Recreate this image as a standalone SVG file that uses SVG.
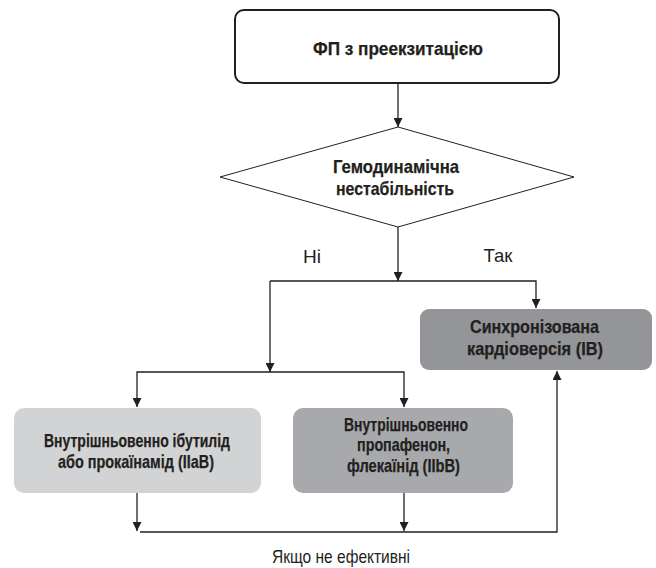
<svg xmlns="http://www.w3.org/2000/svg" width="656" height="568" viewBox="0 0 656 568">
<style>
.t{font-family:"Liberation Sans Narrow","Liberation Sans",Arial,sans-serif;font-weight:bold;font-size:18.5px;fill:#231f20;stroke:#231f20;stroke-width:0.25;text-anchor:middle}
.r{font-family:"Liberation Sans Narrow","Liberation Sans",Arial,sans-serif;font-size:19px;fill:#231f20;text-anchor:middle}
.c{fill:none;stroke:#231f20;stroke-width:1.3}
</style>
<defs>
<marker id="ah" viewBox="0 0 10 10" refX="10" refY="5" markerWidth="9" markerHeight="9" markerUnits="userSpaceOnUse" orient="auto">
<path d="M0,0 L10,5 L0,10 Z" fill="#231f20"/>
</marker>
</defs>
<rect width="656" height="568" fill="#ffffff"/>
<g id="connectors">
<path class="c" d="M398,83 V127" marker-end="url(#ah)"/>
<path class="c" d="M398,227 V281" marker-end="url(#ah)"/>
<path class="c" d="M270,281 H536 V308" marker-end="url(#ah)"/>
<path class="c" d="M270,281 V372" marker-end="url(#ah)"/>
<path class="c" d="M270,372 H137 V407" marker-end="url(#ah)"/>
<path class="c" d="M270,372 H404 V407" marker-end="url(#ah)"/>
<path class="c" d="M137,493 V531" marker-end="url(#ah)"/>
<path class="c" d="M404,493 V531" marker-end="url(#ah)"/>
<path class="c" d="M140,532 H557 V371" marker-end="url(#ah)"/>
</g>
<g id="start">
<rect x="235" y="10" width="324" height="73" rx="9" fill="#ffffff" stroke="#231f20" stroke-width="2"/>
<text class="t" x="398" y="55" textLength="170" lengthAdjust="spacingAndGlyphs">ФП з преекзитацією</text>
</g>
<g id="decision">
<polygon points="398,127 574,177 398,227 220,177" fill="#ffffff" stroke="#231f20" stroke-width="1"/>
<text class="t" x="396" y="173" textLength="126" lengthAdjust="spacingAndGlyphs">Гемодинамічна</text>
<text class="t" x="395" y="195" textLength="118" lengthAdjust="spacingAndGlyphs">нестабільність</text>
</g>
<g id="label-no"><text class="r" x="312" y="263" textLength="18" lengthAdjust="spacingAndGlyphs">Ні</text></g>
<g id="label-yes"><text class="r" x="498" y="262" textLength="29" lengthAdjust="spacingAndGlyphs">Так</text></g>
<g id="cardioversion">
<rect x="420" y="309" width="232" height="61" rx="9" fill="#939598"/>
<text class="t" x="534.5" y="333" textLength="129" lengthAdjust="spacingAndGlyphs">Синхронізована</text>
<text class="t" x="535" y="355" textLength="136" lengthAdjust="spacingAndGlyphs">кардіоверсія (IB)</text>
</g>
<g id="ibutilide">
<rect x="14" y="408" width="247" height="85" rx="10" fill="#d1d3d4"/>
<text class="t" x="137" y="447" textLength="186" lengthAdjust="spacingAndGlyphs">Внутрішньовенно ібутилід</text>
<text class="t" x="136" y="468" textLength="156" lengthAdjust="spacingAndGlyphs">або прокаїнамід (IIaB)</text>
</g>
<g id="propafenone">
<rect x="293" y="408" width="220" height="85" rx="10" fill="#a7a9ac"/>
<text class="t" x="406" y="431" textLength="124" lengthAdjust="spacingAndGlyphs">Внутрішньовенно</text>
<text class="t" x="403.5" y="451" textLength="93" lengthAdjust="spacingAndGlyphs">пропафенон,</text>
<text class="t" x="403.5" y="472" textLength="113" lengthAdjust="spacingAndGlyphs">флекаїнід (IIbB)</text>
</g>
<g id="label-ineffective"><text class="r" x="341" y="563" textLength="138" lengthAdjust="spacingAndGlyphs">Якщо не ефективні</text></g>
</svg>
